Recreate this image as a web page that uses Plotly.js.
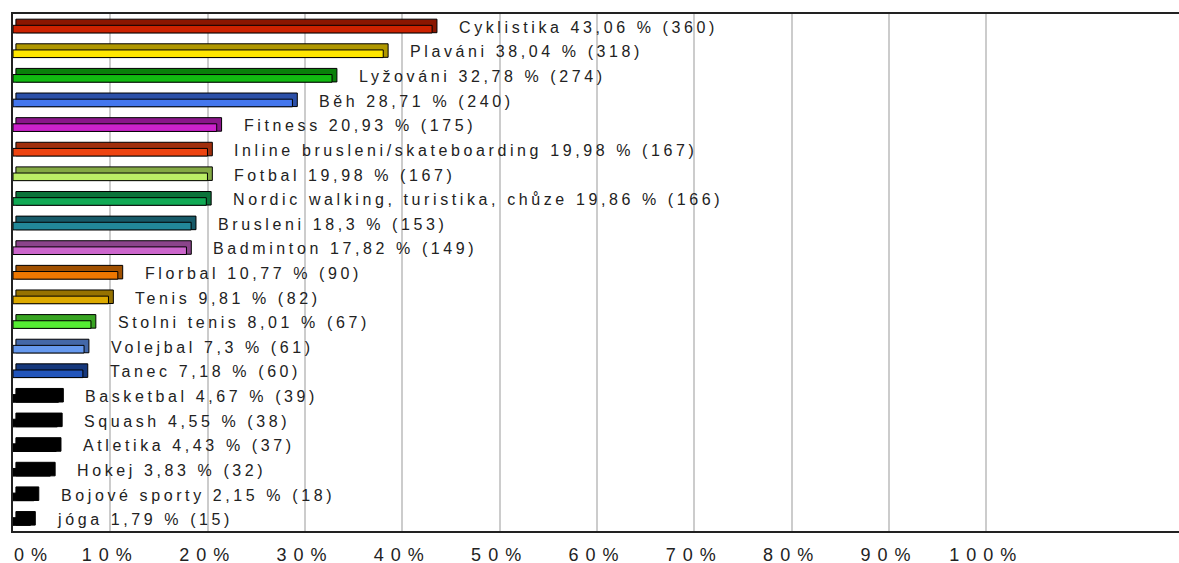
<!DOCTYPE html>
<html>
<head>
<meta charset="utf-8">
<script src="https://cdn.plot.ly/plotly-3.0.1.min.js"></script>
<style>
html, body { margin: 0; padding: 0; background: #fff; }
#chart { width: 1179px; height: 563px; }
.annotation-text { letter-spacing: 3.6px; }
.xtick text { letter-spacing: 7px; }
</style>
</head>
<body>
<div id="chart"></div>
<script>
var sports = ["Cyklistika", "Plaváni", "Lyžováni", "Běh", "Fitness",
  "Inline brusleni/skateboarding", "Fotbal", "Nordic walking, turistika, chůze",
  "Brusleni", "Badminton", "Florbal", "Tenis", "Stolni tenis", "Volejbal",
  "Tanec", "Basketbal", "Squash", "Atletika", "Hokej", "Bojové sporty", "jóga"];
var percents = [43.06, 38.04, 32.78, 28.71, 20.93, 19.98, 19.98, 19.86, 18.3, 17.82,
  10.77, 9.81, 8.01, 7.3, 7.18, 4.67, 4.55, 4.43, 3.83, 2.15, 1.79];
var counts = [360, 318, 274, 240, 175, 167, 167, 166, 153, 149,
  90, 82, 67, 61, 60, 39, 38, 37, 32, 18, 15];
var frontColors = ["#cc2200", "#ffe600", "#11bb11", "#4477ee", "#cc22cc",
  "#ee4411", "#bbee66", "#11aa55", "#228899", "#cc66cc",
  "#ee7700", "#ddaa00", "#55ee33", "#6699ee", "#2255bb",
  "#000000", "#000000", "#000000", "#000000", "#000000", "#000000"];
var topColors = ["#8a1600", "#b09800", "#0a800a", "#2c50a8", "#8a168a",
  "#a02e0c", "#84aa44", "#0b733a", "#175a68", "#8a448a",
  "#a05000", "#967200", "#38a422", "#4468a8", "#16387c",
  "#000000", "#000000", "#000000", "#000000", "#000000", "#000000"];
var tickValues = [0, 10, 20, 30, 40, 50, 60, 70, 80, 90, 100];
var tickLabels = ["0%", "10%", "20%", "30%", "40%", "50%", "60%", "70%", "80%", "90%", "100%"];

var idx = sports.map(function (_, i) { return i; });
var labels = sports.map(function (s, i) {
  return s + " " + String(percents[i]).replace(".", ",") + " % (" + counts[i] + ")";
});

var topFace = {
  type: "bar", orientation: "h",
  y: idx,
  x: percents.map(function (p) { return p + 0.2; }),
  base: 0.3,
  offset: -0.29, width: 0.55,
  marker: { color: topColors, line: { color: "#000", width: 1 } },
  hoverinfo: "skip", showlegend: false
};
var frontFace = {
  type: "bar", orientation: "h",
  y: idx, x: percents,
  offset: -0.04, width: 0.31,
  marker: { color: frontColors, line: { color: "#000", width: 1 } },
  hoverinfo: "skip", showlegend: false
};

var labelFont = { family: "Liberation Sans, Arial, sans-serif", size: 16, color: "#222" };
var tickFont = { family: "Liberation Sans, Arial, sans-serif", size: 18, color: "#222" };

var annotations = idx.map(function (i) {
  return {
    x: percents[i], y: i, xref: "x", yref: "y",
    text: labels[i], showarrow: false,
    xanchor: "left", yanchor: "middle",
    xshift: 25, yshift: -1,
    font: labelFont
  };
});
// first tick label is left-aligned at the plot edge in the reference
annotations.push({
  x: tickValues[0], y: 0, xref: "x", yref: "paper",
  text: '<span style="letter-spacing:7px">' + tickLabels[0] + '</span>',
  showarrow: false, xanchor: "left", yanchor: "top",
  xshift: -1, yshift: -12,
  font: tickFont
});

var layout = {
  width: 1179, height: 563,
  margin: { l: 13, r: 0, t: 14, b: 32, pad: 0 },
  paper_bgcolor: "#fff", plot_bgcolor: "#fff",
  barmode: "overlay",
  showlegend: false,
  xaxis: {
    range: [0, 119.8],
    tickvals: tickValues,
    ticktext: tickLabels.map(function (t, i) { return i === 0 ? "" : t; }),
    showgrid: true, gridcolor: "#cccccc", gridwidth: 2,
    zeroline: false,
    showline: true, linecolor: "#222", linewidth: 2, mirror: true,
    ticks: "", ticklabelstandoff: 6, ticklabeloverflow: "allow",
    tickfont: tickFont,
    fixedrange: true
  },
  yaxis: {
    range: [20.5, -0.5],
    showticklabels: false, showgrid: false, zeroline: false,
    showline: true, linecolor: "#222", linewidth: 2, mirror: false,
    ticks: "", fixedrange: true
  },
  annotations: annotations
};

Plotly.newPlot("chart", [topFace, frontFace], layout, { staticPlot: true, displayModeBar: false });
</script>
</body>
</html>
